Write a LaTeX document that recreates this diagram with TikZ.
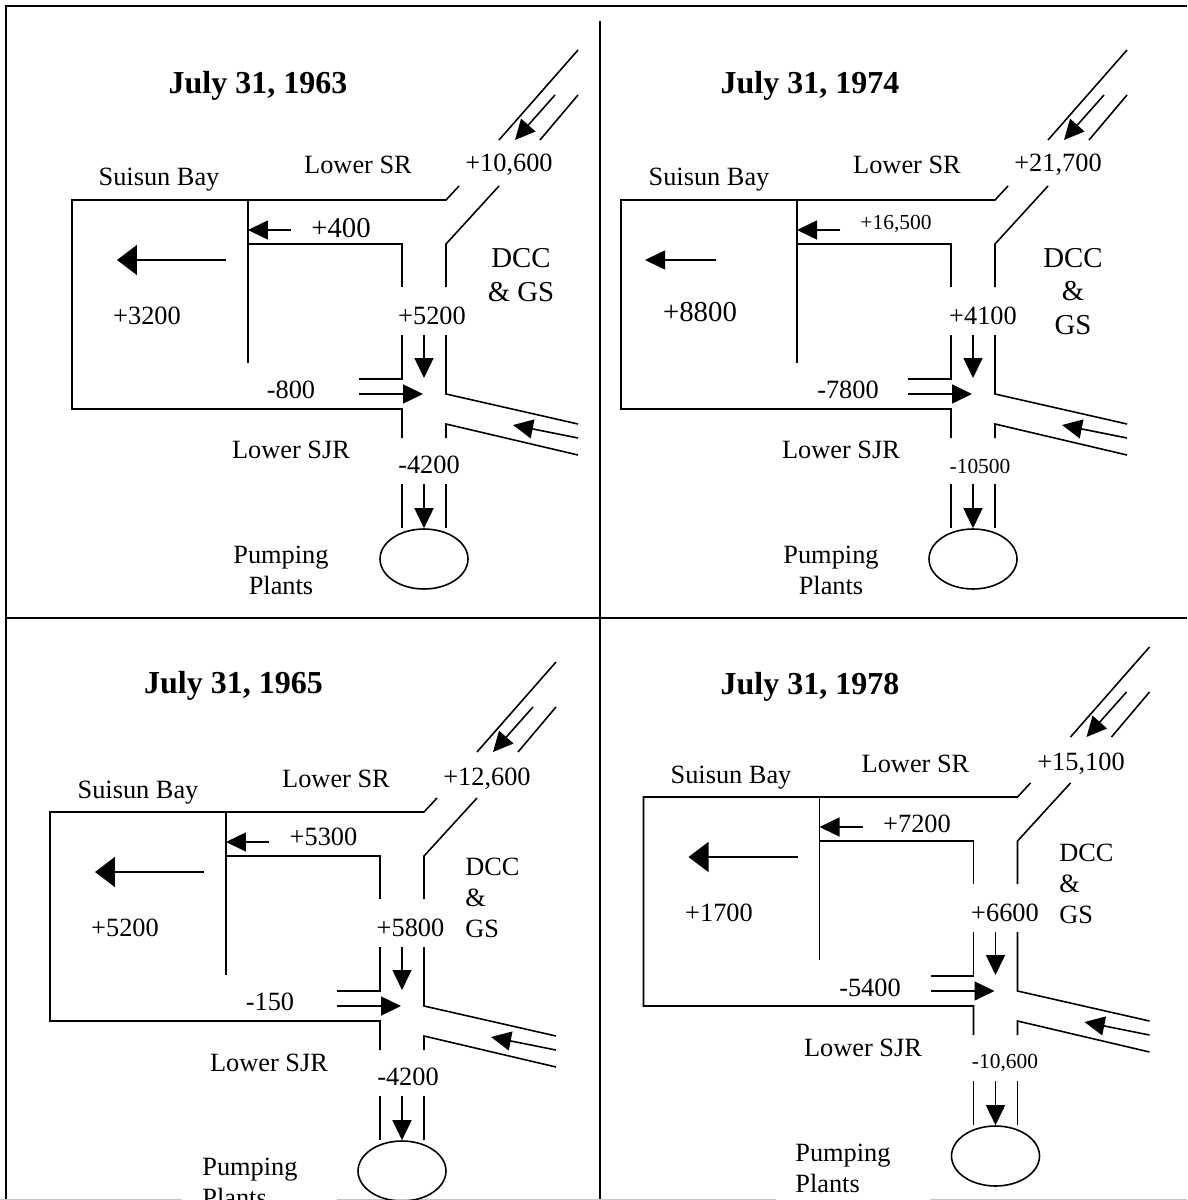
\documentclass[tikz,border=0pt]{standalone}
\usepackage{fontspec}
\setmainfont{Liberation Serif}
\usetikzlibrary{arrows.meta, shapes.geometric}

\begin{document}
\begin{tikzpicture}[
    x=0.02cm, y=-0.02cm,
    chan/.style={line width=0.9pt},
    rule/.style={line width=1pt},
    flow/.style={line width=0.9pt, -{Triangle[length=4mm, width=3.8mm]}},
    bigflow/.style={line width=0.9pt, -{Triangle[length=4mm, width=6mm]}},
    lbl/.style={inner sep=0pt, font=\fontsize{15}{17.6}\selectfont},
    big/.style={inner sep=0pt, font=\fontsize{16.4}{19}\selectfont},
    sml/.style={inner sep=0pt, font=\fontsize{12.2}{14}\selectfont},
    ttl/.style={inner sep=0pt, font=\fontsize{18.2}{21}\selectfont\bfseries},
    plant/.style={draw, ellipse, line width=0.9pt, minimum width=17.6mm,
                  minimum height=12mm, inner sep=0pt},
]
    \useasboundingbox (0,0) rectangle (1187,1200);

    % --- table rules ---
    \draw[rule] (6,1200) -- (6,6) -- (1187,6);
    \draw[rule] (600,21) -- (600,1200);
    \draw[rule] (6,618) -- (1187,618);
    \draw[gray!45, line width=0.6pt] (0,1199.5) -- (182,1199.5)
        (337,1199.5) -- (776,1199.5) (930,1199.5) -- (1187,1199.5);

    % --- channel network, the same in every panel ---
    \foreach \dx/\dy/\p in {0/0/A, 549/0/B, -22/612/C, 571.5/597/D} {
      \begin{scope}[shift={(\dx,\dy)}]
        \draw[chan] (459,186) -- (446,200) -- (72,200) -- (72,409) -- (402,409) -- (402,438);
        \draw[chan] (248,200) -- (248,363);
        \draw[chan] (248,244) -- (402,244) -- (402,287);
        \draw[chan] (499,186) -- (446,244) -- (446,287);
        \draw[chan] (359,379) -- (402,379) -- (402,335);
        \draw[chan] (446,335) -- (446,394) -- (578,424);
        \draw[chan] (446,438) -- (446,424) -- (578,455);
        \draw[chan] (402,484) -- (402,528) (446,484) -- (446,528);
        \draw[chan] (499,140) -- (578,50) (540,140) -- (578,95);
        \node[plant] (pump\p) at (424,559) {};
        \draw[flow] (555,95) -- (515,140);
        \draw[flow] (291,230) -- (248,230);
        \draw[flow] (424,335) -- (424,378);
        \draw[flow] (359,394) -- (423,394);
        \draw[flow] (578,438) -- (513,425);
        \draw[flow] (424,484) -- (pump\p.north);
      \end{scope}
    }

    % --- July 31, 1963 ---
    \begin{scope}[shift={(0,0)}]
      \draw[bigflow] (226,260) -- (117,260);
      \node[ttl] (titleA) at (258,86) {July 31, 1963};
      \node[lbl] (srA)    at (358,165) {Lower SR};
      \node[lbl] (inA)    at (509,165) {+10,600};
      \node[lbl] (bayA)   at (159,180) {Suisun Bay};
      \node[big] (srqA)   at (341,228) {+400};
      \node[big, align=center] (dccA) at (521,275) {DCC\\\& GS};
      \node[lbl] (outA)   at (147,316) {+3200};
      \node[lbl] (dqA)    at (432,316) {+5200};
      \node[lbl] (sjqA)   at (291,390) {-800};
      \node[lbl] (sjrA)   at (291,450) {Lower SJR};
      \node[lbl] (expA)   at (429,465) {-4200};
      \node[lbl, align=center] (ppA) at (281,570) {Pumping\\Plants};
    \end{scope}

    % --- July 31, 1974 ---
    \begin{scope}[shift={(549,0)}]
      \draw[flow] (166.6,260) -- (96,260);
      \node[ttl] (titleB) at (261,86) {July 31, 1974};
      \node[lbl] (srB)    at (358,165) {Lower SR};
      \node[lbl] (inB)    at (509,165) {+21,700};
      \node[lbl] (bayB)   at (160,180) {Suisun Bay};
      \node[sml] (srqB)   at (347,224) {+16,500};
      \node[big, align=center] (dccB) at (524,291.5) {DCC\\\&\\GS};
      \node[big] (outB)   at (151,312) {+8800};
      \node[lbl] (dqB)    at (434,316) {+4100};
      \node[lbl] (sjqB)   at (299,390) {-7800};
      \node[lbl] (sjrB)   at (292,450) {Lower SJR};
      \node[sml] (expB)   at (431,466) {-10500};
      \node[lbl, align=center] (ppB) at (282,570) {Pumping\\Plants};
    \end{scope}

    % --- July 31, 1965 ---
    \begin{scope}[shift={(-22,612)}]
      \draw[bigflow] (226,260) -- (117,260);
      \node[ttl] (titleC) at (255.5,73.5) {July 31, 1965};
      \node[lbl] (srC)    at (358,166.5) {Lower SR};
      \node[lbl] (inC)    at (509,166.5) {+12,600};
      \node[lbl] (bayC)   at (160,181) {Suisun Bay};
      \node[lbl] (srqC)   at (345.5,225) {+5300};
      \node[lbl, align=left, anchor=west] (dccC) at (487,286) {DCC\\\&\\GS};
      \node[lbl] (outC)   at (147,315.5) {+5200};
      \node[lbl] (dqC)    at (432.5,315.5) {+5800};
      \node[lbl] (sjqC)   at (292,390) {-150};
      \node[lbl] (sjrC)   at (291,451) {Lower SJR};
      \node[lbl] (expC)   at (430,465) {-4200};
      \node[lbl, align=left, anchor=west] (ppC) at (224,570) {Pumping\\Plants};
    \end{scope}

    % --- July 31, 1978 ---
    \begin{scope}[shift={(571.5,597)}]
      \draw[bigflow] (226,260) -- (117,260);
      \node[ttl] (titleD) at (238.5,90) {July 31, 1978};
      \node[lbl] (srD)    at (344,167) {Lower SR};
      \node[lbl] (inD)    at (509.5,167) {+15,100};
      \node[lbl] (bayD)   at (159.5,181) {Suisun Bay};
      \node[lbl] (srqD)   at (345.5,227) {+7200};
      \node[lbl, align=left, anchor=west] (dccD) at (487.5,287) {DCC\\\&\\GS};
      \node[lbl] (outD)   at (147.5,316) {+1700};
      \node[lbl] (dqD)    at (433.5,316) {+6600};
      \node[lbl] (sjqD)   at (298.5,390.5) {-5400};
      \node[lbl] (sjrD)   at (291.5,451) {Lower SJR};
      \node[sml] (expD)   at (433.5,466) {-10,600};
      \node[lbl, align=left, anchor=west] (ppD) at (223.5,571) {Pumping\\Plants};
    \end{scope}
\end{tikzpicture}
\end{document}
